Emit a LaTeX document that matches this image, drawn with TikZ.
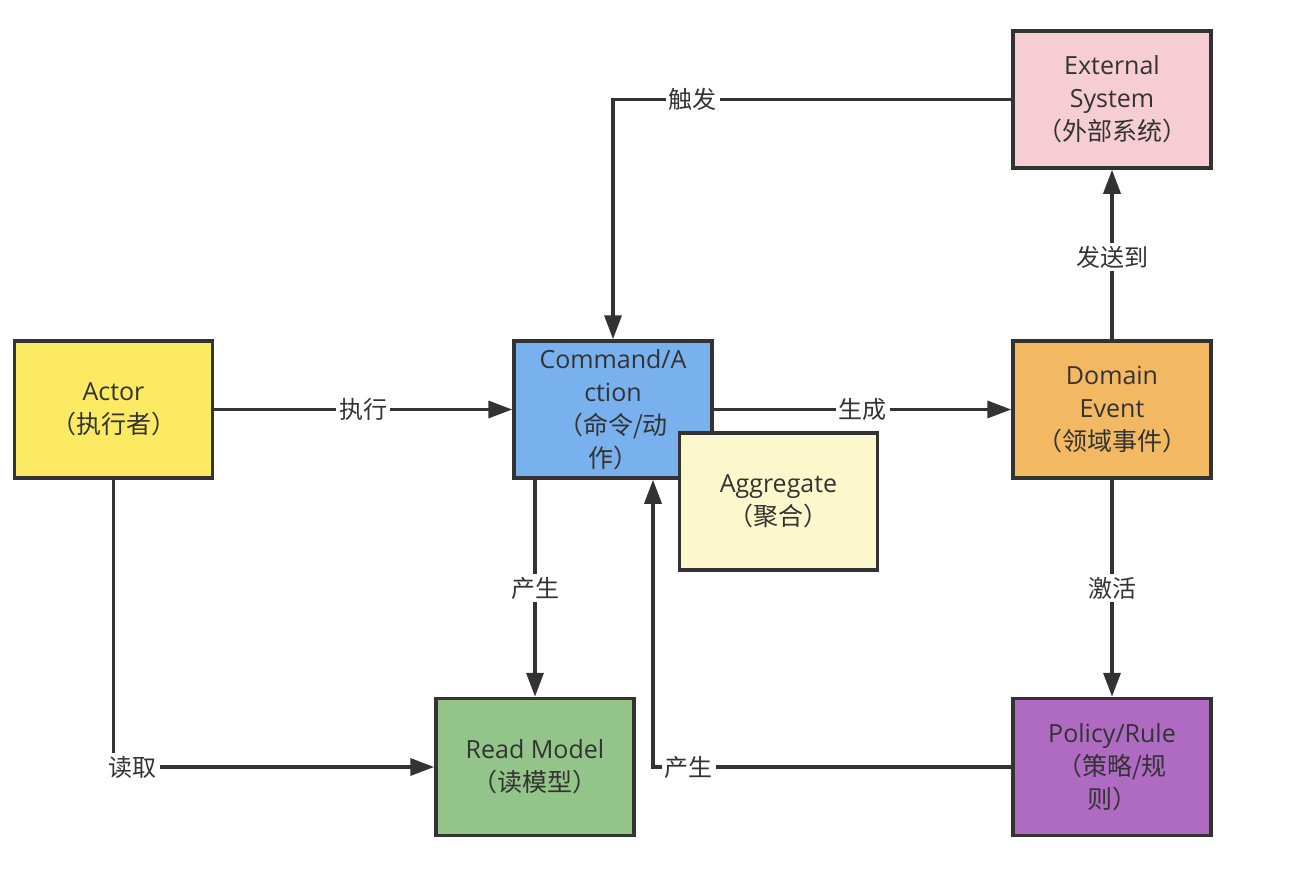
\documentclass[tikz,border=0pt]{standalone}
\usepackage{fontspec}
\setmainfont{Open Sans}
\newfontfamily\cjk{Noto Sans CJK SC}
\usetikzlibrary{arrows.meta}
\definecolor{ink}{HTML}{333333}
\definecolor{cActor}{HTML}{FCEA62}
\definecolor{cCmd}{HTML}{78B1EE}
\definecolor{cAgg}{HTML}{FDF8CB}
\definecolor{cDom}{HTML}{F2B862}
\definecolor{cExt}{HTML}{F7CDD4}
\definecolor{cRead}{HTML}{93C58A}
\definecolor{cPol}{HTML}{AE6BC1}
\tikzset{
  box/.style={draw=ink, line width=3.5pt, minimum width=198pt, minimum height=137pt,
    align=center, text=ink, font=\fontsize{25}{33}\selectfont, inner sep=2pt},
  conn/.style={draw=ink, line width=3.5pt, -{Triangle[length=24pt,width=17pt]}},
  lbl/.style={fill=white, text=ink, font=\cjk\fontsize{24}{30}\selectfont, inner sep=3pt},
}
\begin{document}
\begin{tikzpicture}[x=1pt,y=-1pt]
\useasboundingbox (0,0) rectangle (1306,872);
\fill[white] (0,0) rectangle (1306,872);

\node[box, fill=cActor] (actor) at (113.5,409.5) {Actor\\{\cjk （执行者）}};
\node[box, fill=cCmd] (cmd) at (613,409.5) {Command/A\\ction\\{\cjk （命令/动}\\{\cjk 作）}};
\node[box, fill=cDom] (dom) at (1112,409.5) {Domain\\Event\\{\cjk （领域事件）}};
\node[box, fill=cExt] (ext) at (1112,99.5) {External\\System\\{\cjk （外部系统）}};
\node[box, fill=cRead] (read) at (535,767) {Read Model\\{\cjk （读模型）}};
\node[box, fill=cPol] (pol) at (1112,767) {Policy/Rule\\{\cjk （策略/规}\\{\cjk 则）}};

% connectors
\draw[conn] (actor.east) -- (cmd.west) node[lbl, pos=0.5] {执行};
\draw[conn] (cmd.east) -- (dom.west) node[lbl, pos=0.5] {生成};
\draw[conn] (ext.west) -| (cmd.north) node[lbl, pos=0.4] {触发};
\draw[conn] (dom.north) -- (ext.south) node[lbl, pos=0.485] {发送到};
\draw[conn] (dom.south) -- (pol.north) node[lbl, pos=0.5] {激活};
\draw[conn] (read.north |- cmd.south) -- (read.north) node[lbl, pos=0.5] {产生};
\draw[conn] (actor.south) |- (read.west) node[lbl, pos=0.53] {读取};
\draw[conn] (pol.west) -| ([xshift=40pt]cmd.south) node[lbl, pos=0.45] {产生};

\node[box, fill=cAgg] (agg) at (778.5,501.5) {Aggregate\\{\cjk （聚合）}};
\end{tikzpicture}
\end{document}
